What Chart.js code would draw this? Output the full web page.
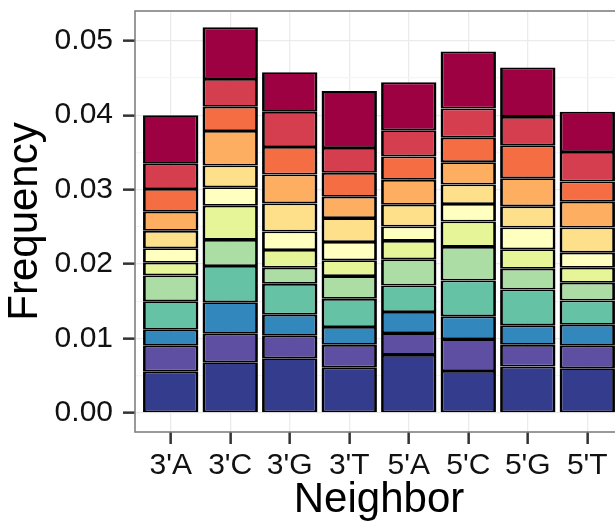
<!DOCTYPE html>
<html>
<head>
<meta charset="utf-8">
<script src="https://cdn.jsdelivr.net/npm/chart.js@4"></script>
<style>
  html, body { margin: 0; padding: 0; background: #fff; overflow: hidden; }
  canvas { display: block; }
</style>
</head>
<body>
<canvas id="chart" width="623" height="523" style="width:623px;height:523px"></canvas>
<script>
// categories on the x axis
const neighbors = ["3'A", "3'C", "3'G", "3'T", "5'A", "5'C", "5'G", "5'T"];

// stacked bands, bottom to top
const band1  = [0.00554, 0.00680, 0.00734, 0.00608, 0.00779, 0.00563, 0.00622, 0.00599];
const band2  = [0.00347, 0.00383, 0.00302, 0.00306, 0.00293, 0.00428, 0.00292, 0.00302];
const band3  = [0.00216, 0.00423, 0.00284, 0.00239, 0.00284, 0.00306, 0.00262, 0.00284];
const band4  = [0.00383, 0.00487, 0.00414, 0.00379, 0.00356, 0.00482, 0.00482, 0.00324];
const band5  = [0.00347, 0.00351, 0.00216, 0.00306, 0.00351, 0.00451, 0.00279, 0.00239];
const band6  = [0.00171, 0.00460, 0.00239, 0.00212, 0.00248, 0.00342, 0.00261, 0.00202];
const band7  = [0.00194, 0.00248, 0.00248, 0.00247, 0.00194, 0.00234, 0.00293, 0.00203];
const band8  = [0.00234, 0.00292, 0.00378, 0.00320, 0.00292, 0.00262, 0.00284, 0.00338];
const band9  = [0.00257, 0.00464, 0.00388, 0.00288, 0.00334, 0.00301, 0.00378, 0.00347];
const band10 = [0.00306, 0.00325, 0.00369, 0.00320, 0.00315, 0.00329, 0.00442, 0.00270];
const band11 = [0.00338, 0.00373, 0.00473, 0.00334, 0.00351, 0.00392, 0.00382, 0.00397];
const band12 = [0.00653, 0.00694, 0.00532, 0.00765, 0.00644, 0.00766, 0.00663, 0.00540];

const bands = [band1, band2, band3, band4, band5, band6, band7, band8, band9, band10, band11, band12];
const bandColors = ['#343c8e', '#5e4fa2', '#3288bd', '#66c2a5', '#abdda4', '#e6f598',
                    '#ffffbf', '#fee08b', '#fdae61', '#f46d43', '#d53e4f', '#9e0142'];

// y axis ticks
const yMajor = [0, 0.01, 0.02, 0.03, 0.04, 0.05];
const yMinor = [0.005, 0.015, 0.025, 0.035, 0.045];

const isMajor = v => yMajor.some(m => Math.abs(m - v) < 1e-9);

// panel border drawn on top, like the ggplot one
const panelBorder = {
    id: 'panelBorder',
    afterDraw(chart) {
        const { ctx, chartArea: a } = chart;
        ctx.save();
        ctx.strokeStyle = '#808080';
        ctx.lineWidth = 1.6;
        ctx.strokeRect(a.left, a.top, a.right - a.left, a.bottom - a.top);
        ctx.restore();
    }
};

const datasets = bands.map((vals, i) => ({
    label: 'Band ' + (i + 1),
    data: vals.map((v, j) => ({ x: j + 1, y: v })),
    backgroundColor: bandColors[i],
    borderColor: '#000',
    borderWidth: { top: 1.8, bottom: 1.8, left: 2.8, right: 2.8 },
    borderSkipped: false,
    barPercentage: 0.93,
    categoryPercentage: 1
}));

new Chart(document.getElementById('chart'), {
    type: 'bar',
    data: { datasets: datasets },
    options: {
        responsive: false,
        animation: false,
        layout: { padding: { top: 11, left: 0, right: 0, bottom: 0 } },
        plugins: { legend: { display: false }, tooltip: { enabled: false } },
        scales: {
            x: {
                type: 'linear',
                stacked: true,
                offset: false,
                min: 0.4,
                max: 8.6,
                afterBuildTicks: axis => { axis.ticks = neighbors.map((_, i) => ({ value: i + 1 })); },
                afterFit: scale => {
                    scale.height = 91;
                    scale.paddingLeft = 0;
                    scale.paddingRight = 0;
                },
                border: { display: false },
                grid: { offset: false, color: '#ebebeb', lineWidth: 1.3, tickColor: '#333', tickWidth: 2.5, tickLength: 12 },
                ticks: {
                    autoSkip: false,
                    maxRotation: 0,
                    padding: 4,
                    color: '#111',
                    font: { family: 'Liberation Sans', size: 30 },
                    callback: v => neighbors[v - 1] || ''
                },
                title: {
                    display: true,
                    text: 'Neighbor',
                    color: '#000',
                    font: { family: 'Liberation Sans', size: 42, lineHeight: 1 },
                    padding: { top: 0, bottom: 2 }
                }
            },
            y: {
                stacked: true,
                min: -0.00257,
                max: 0.0540,
                afterBuildTicks: axis => {
                    axis.ticks = yMajor.concat(yMinor).sort((a, b) => a - b).map(v => ({ value: v }));
                },
                afterFit: scale => {
                    scale.width = 135;
                    scale.paddingTop = 0;
                    scale.paddingBottom = 0;
                },
                border: { display: false },
                grid: {
                    color: ctx => isMajor(ctx.tick.value) ? '#ebebeb' : '#f5f5f5',
                    lineWidth: 1.3,
                    tickColor: ctx => isMajor(ctx.tick.value) ? '#333' : 'rgba(0,0,0,0)',
                    tickWidth: 2.5,
                    tickLength: 12
                },
                ticks: {
                    autoSkip: false,
                    padding: 10,
                    color: '#111',
                    font: { family: 'Liberation Sans', size: 30 },
                    callback: v => isMajor(v) ? v.toFixed(2) : ''
                },
                title: {
                    display: true,
                    text: 'Frequency',
                    color: '#000',
                    font: { family: 'Liberation Sans', size: 42, lineHeight: 1 },
                    padding: { top: 4, bottom: 0 }
                }
            }
        }
    },
    plugins: [panelBorder]
});
</script>
</body>
</html>
